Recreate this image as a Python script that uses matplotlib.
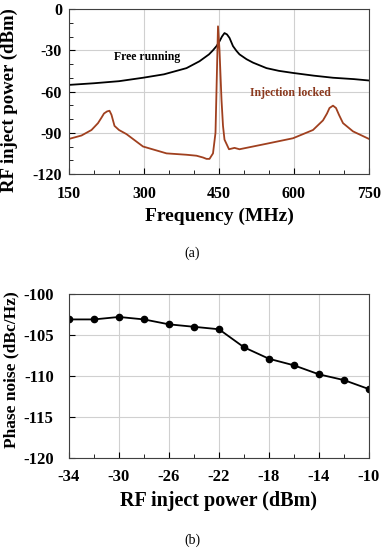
import matplotlib.pyplot as plt
from matplotlib.ticker import MultipleLocator

# (a) spectrum
freq_free = [150, 200, 250, 298, 340, 385, 411, 430, 438, 445, 451, 456, 461, 466, 471, 478, 485, 491, 505, 518, 545, 570, 598, 640, 678, 720, 750]
pwr_free = [-55.2, -54, -52.5, -50, -47.5, -43, -38, -33, -30, -27, -23.5, -20, -17.5, -18.5, -21, -27, -30.5, -33, -36.5, -39, -43, -45, -46.5, -48.5, -50, -51, -52]

freq_lock = [150, 175, 195, 208, 215, 220, 226, 231, 235, 241, 250, 265, 298, 345, 385, 405, 418, 425, 431, 438, 443, 448, 451, 455, 458, 461, 470, 481, 491, 545, 598, 638, 658, 666, 671, 678, 684, 690, 698, 718, 750]
pwr_lock = [-94.5, -92, -88, -83, -79, -76, -74.5, -74, -77, -85, -88, -91, -100, -105, -106, -106.7, -108, -109, -109, -105, -90, -12.6, -30, -66, -85, -95, -102, -101, -102, -98, -94, -88, -81, -76, -72, -70.3, -72, -77, -83, -89, -94.5]

# (b) phase noise
inj_power = [-34, -32, -30, -28, -26, -24, -22, -20, -18, -16, -14, -12, -10]
phase_noise = [-103.1, -103.1, -102.8, -103.1, -103.7, -104.0, -104.3, -106.5, -107.9, -108.7, -109.8, -110.5, -111.6]

plt.rcParams['font.family'] = 'Liberation Serif'
plt.rcParams['font.weight'] = 'bold'
plt.rcParams['axes.unicode_minus'] = False
fig = plt.figure(figsize=(3.85, 5.5), dpi=100)

ax1 = fig.add_axes([69/385, 1-174/550, 300/385, 165/550])
ax1.plot(freq_free, pwr_free, color='black', lw=1.3)
ax1.plot(freq_lock, pwr_lock, color='#a0401f', lw=1.3)
ax1.set_xlim(150, 750)
ax1.set_ylim(-120, 0)
ax1.set_xticks([150, 300, 450, 600, 750])
ax1.set_yticks([0, -30, -60, -90, -120])
ax1.xaxis.set_minor_locator(MultipleLocator(50))
ax1.yaxis.set_minor_locator(MultipleLocator(10))
ax1.tick_params(which='both', direction='in', labelsize=11.5)
ax1.tick_params(which='major', length=4)
ax1.tick_params(which='minor', length=3)
ax1.tick_params(axis='x', pad=9)
ax1.tick_params(axis='y', pad=5)
ax1.grid(True, color='#d0d0d0', lw=0.8)
ax1.set_axisbelow(True)
ax1.set_xlabel('Frequency (MHz)', fontsize=14, fontweight='bold', labelpad=4)
fig.text(9/385, 1-100/550, 'RF inject power (dBm)', rotation=90, ha='center', va='center',
         fontsize=13.5, fontweight='bold')
ax1.text(241, -37, 'Free running', fontsize=8.5, fontweight='bold', color='black')
ax1.text(513, -63, 'Injection locked', fontsize=8.5, fontweight='bold', color='#8b3a1f')
for s in ax1.spines.values():
    s.set_color('#404040')
fig.text(0.5, 1-253/550, '(a)', ha='center', va='center', fontsize=10, fontweight='normal')

ax2 = fig.add_axes([69/385, 1-458/550, 300/385, 164/550])
ax2.plot(inj_power, phase_noise, color='black', lw=1.3, marker='o', ms=4.5)
ax2.set_xlim(-34, -10)
ax2.set_ylim(-120, -100)
ax2.set_xticks([-34, -30, -26, -22, -18, -14, -10])
ax2.set_yticks([-100, -105, -110, -115, -120])
ax2.xaxis.set_minor_locator(MultipleLocator(2))
ax2.tick_params(which='both', direction='in', labelsize=12)
ax2.tick_params(which='major', length=4)
ax2.tick_params(which='minor', length=3)
ax2.tick_params(axis='x', pad=8)
ax2.tick_params(axis='y', pad=11)
ax2.grid(True, color='#d0d0d0', lw=0.8)
ax2.set_axisbelow(True)
ax2.set_xlabel('RF inject power (dBm)', fontsize=14.5, fontweight='bold', labelpad=4)
fig.text(11/385, 1-370/550, 'Phase noise (dBc/Hz)', rotation=90, ha='center', va='center',
         fontsize=12.5, fontweight='bold')
for s in ax2.spines.values():
    s.set_color('#404040')
fig.text(0.5, 1-540/550, '(b)', ha='center', va='center', fontsize=10, fontweight='normal')

plt.savefig('out.png', dpi=100)
